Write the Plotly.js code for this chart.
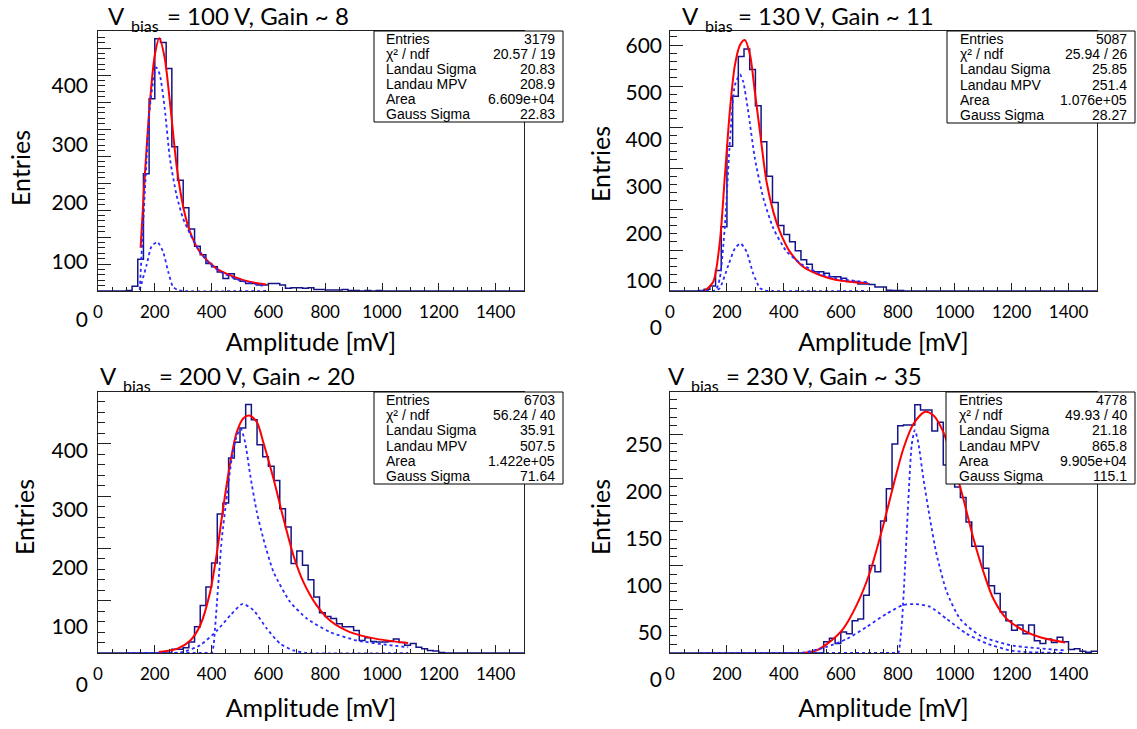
<!DOCTYPE html>
<html><head><meta charset="utf-8">
<script src="https://cdn.plot.ly/plotly-3.0.1.min.js"></script>
<style>html,body{margin:0;padding:0;background:#fff;} #chart{width:1137px;height:729px;}</style>
</head><body><div id="chart"></div>
<script>
// ---------------- DATA ----------------
const binEdges = [0,20,40,60,80,100,120,140,160,180,200,220,240,260,280,300,320,340,360,380,400,420,440,460,480,500,520,540,560,580,600,620,640,660,680,700,720,740,760,780,800,820,840,860,880,900,920,940,960,980,1000,1020,1040,1060,1080,1100,1120,1140,1160,1180,1200,1220,1240,1260,1280,1300,1320,1340,1360,1380,1400,1420,1440,1460,1480,1500];

const counts100V = [0,0,0,0,0,1,9,59,217,356,467,460,412,267,205,154,115,83,67,51,45,35,23,32,22,18,14,14,11,11,14,14,11,5,6,6,5,6,3,3,2,2,2,3,1,1,0,1,0,1,0,0,0,0,0,0,0,0,0,0,0,0,0,0,0,0,0,0,0,0,0,0,0,0,0];
const counts130V = [0,0,0,0,0,1,4,12,50,157,353,475,572,590,540,452,364,280,216,160,138,120,98,76,65,47,47,43,35,35,31,23,23,17,17,16,10,10,2,1,1,0,0,0,0,0,0,0,0,0,0,0,0,0,0,0,0,0,0,0,0,0,0,0,0,0,0,0,0,0,0,0,0,0,0];
const counts200V = [0,0,0,0,0,0,0,0,0,0,0,0,0,7,7,10,21,50,91,126,172,266,287,373,403,430,475,446,398,375,357,330,276,241,171,195,168,140,107,77,70,66,56,50,50,43,24,29,22,21,21,22,27,20,15,18,11,8,5,4,1,0,0,0,0,0,0,0,0,0,0,0,0,0,0];
const counts230V = [0,0,0,0,0,0,0,0,0,0,0,0,0,0,0,0,0,0,0,0,0,0,0,0,0,0,0,13,17,11,24,22,37,39,66,100,93,151,188,239,260,261,261,284,278,278,254,264,215,200,190,178,150,122,122,97,77,68,47,37,26,32,22,32,14,11,16,12,18,13,4,5,2,1,2];

// fitted total (red)
const fit100V_x = [150,165,182,200,216,235,253,278,300,323,358,416,475,533,592];
const fit100V_y = [80,215,344,437,468,431,351,227,156,111,73,42,27,17,12];
const fit130V_x = [123,152,175,193,211,228,246,263,281,298,316,339,363,386,421,468,526,585,696];
const fit130V_y = [1,23,120,283,445,551,600,612,576,486,389,267,193,145,96,59,39,27,19];
const fit200V_x = [214,278,325,360,395,419,442,466,489,512,533,559,582,618,653,688,723,770,817,887,981,1092];
const fit200V_y = [2,8,24,53,117,193,282,365,423,449,454,442,403,333,257,187,136,91,62,40,27,19];
const fit230V_x = [463,515,562,609,656,703,749,785,820,855,896,925,960,995,1030,1066,1101,1136,1183,1241,1300,1388];
const fit230V_y = [0,3,13,28,55,93,146,192,234,262,276,272,253,218,177,131,93,62,39,26,18,12];

// Landau component (blue dashed)
const landau100V_x = [147,165,182,200,206,218,235,253,276,299,323,358,393,440,498,557,592];
const landau100V_y = [2,184,338,406,414,400,338,246,179,135,107,73,51,33,20,12,9];
const landau130V_x = [105,160,175,193,211,228,246,257,275,298,328,363,410,468,526,585,696];
const landau130V_y = [0,2,31,161,372,502,528,511,437,324,226,153,96,63,43,31,21];
const landau200V_x = [100,395,401,407,419,436,454,471,489,503,518,536,559,582,618,676,735,817,911,1027,1092];
const landau200V_y = [0,0,0,15,98,219,301,372,416,429,403,340,270,219,155,98,66,40,24,15,11];
const landau230V_x = [105,795,802,814,826,837,849,860,872,890,913,937,972,1019,1089,1194,1388];
const landau230V_y = [0,0,0,32,100,173,238,255,241,200,154,112,70,39,20,9,3];

// Gaussian component (blue dashed)
const gauss100V_x = [147,171,188,209,229,247,264,280,300,592];
const gauss100V_y = [2,48,82,91,73,36,8,2,0,0];
const gauss130V_x = [105,160,175,205,228,248,269,292,316,333,360,696];
const gauss130V_y = [0,1,7,63,104,116,96,43,7,1,0,0];
const gauss200V_x = [100,250,301,360,419,466,509,547,594,641,688,735,1092];
const gauss200V_y = [0,0,2,15,43,72,94,82,47,18,5,0,0];
const gauss230V_x = [105,457,550,621,691,761,820,864,913,972,1042,1112,1194,1253,1388];
const gauss230V_y = [0,0,7,16,30,45,55,56,53,39,22,11,3,1,0];

// stats boxes
const statLabels = ['Entries','\u03c7\u00b2 / ndf','Landau Sigma','Landau MPV','Area','Gauss Sigma'];
const stats100V = ['3179','20.57 / 19','20.83','208.9','6.609e+04','22.83'];
const stats130V = ['5087','25.94 / 26','25.85','251.4','1.076e+05','28.27'];
const stats200V = ['6703','56.24 / 40','35.91','507.5','1.422e+05','71.64'];
const stats230V = ['4778','49.93 / 40','21.18','865.8','9.905e+04','115.1'];

// panel titles: "V", subscript "bias", rest
const titleMain = 'V';
const titleSub = 'bias';
const titleRest = ['= 100 V, Gain ~ 8','= 130 V, Gain ~ 11','= 200 V, Gain ~ 20','= 230 V, Gain ~ 35'];
const xTickVals = [0,200,400,600,800,1000,1200,1400];
const yLabels100V = [0,100,200,300,400];
const yLabels130V = [0,100,200,300,400,500,600];
const yLabels200V = [0,100,200,300,400];
const yLabels230V = [0,50,100,150,200,250];
const xTitle = 'Amplitude [mV]';
const yTitle = 'Entries';

// ---------------- LAYOUT / STYLE ----------------
const W = 1137, H = 729;
const px = v => v / W, py = v => 1 - v / H;

const panels = [
  {counts: counts100V, fx: fit100V_x, fy: fit100V_y, lx: landau100V_x, ly: landau100V_y, gx: gauss100V_x, gy: gauss100V_y,
   stats: stats100V, rest: titleRest[0], labels: yLabels100V,
   frame: {l: 98, r: 524, t: 31, b: 291}, pxPerUnit: 0.54, yMajor: 50, yMinor: 10,
   lab: {zero: 320, ppu: 0.585, top: 16, pos: 88, standoff: 12},
   box: {l: 374, r: 563, t: 31, b: 122, tl: 384, tr: 557},
   tpos: {v: 106, sub: 129, rest: 165, y: 16, ysub: 26}, xstand: 12},
  {counts: counts130V, fx: fit130V_x, fy: fit130V_y, lx: landau130V_x, ly: landau130V_y, gx: gauss130V_x, gy: gauss130V_y,
   stats: stats130V, rest: titleRest[1], labels: yLabels130V,
   frame: {l: 670, r: 1097, t: 31, b: 291}, pxPerUnit: 0.41, yMajor: 100, yMinor: 20,
   lab: {zero: 328, ppu: 0.47, top: 0, pos: 662, standoff: 6},
   box: {l: 947, r: 1135, t: 31, b: 123, tl: 958, tr: 1129},
   tpos: {v: 680, sub: 703, rest: 736, y: 16, ysub: 26}, xstand: 12},
  {counts: counts200V, fx: fit200V_x, fy: fit200V_y, lx: landau200V_x, ly: landau200V_y, gx: gauss200V_x, gy: gauss200V_y,
   stats: stats200V, rest: titleRest[2], labels: yLabels200V,
   frame: {l: 98, r: 524, t: 392, b: 653}, pxPerUnit: 0.523, yMajor: 100, yMinor: 20,
   lab: {zero: 685, ppu: 0.585, top: 349, pos: 88, standoff: 8},
   box: {l: 374, r: 563, t: 392, b: 484, tl: 384, tr: 557},
   tpos: {v: 98, sub: 121, rest: 157, y: 376, ysub: 386}, xstand: 16},
  {counts: counts230V, fx: fit230V_x, fy: fit230V_y, lx: landau230V_x, ly: landau230V_y, gx: gauss230V_x, gy: gauss230V_y,
   stats: stats230V, rest: titleRest[3], labels: yLabels230V,
   frame: {l: 670, r: 1097, t: 392, b: 653}, pxPerUnit: 0.874, yMajor: 50, yMinor: 10,
   lab: {zero: 680, ppu: 0.94, top: 354, pos: 662, standoff: 6},
   box: {l: 946, r: 1135, t: 392, b: 484, tl: 957, tr: 1129},
   tpos: {v: 666, sub: 689, rest: 724, y: 376, ysub: 386}, xstand: 16}
];

const LABEL_FONT = 'Lato, "Open Sans", sans-serif';
const STAT_FONT = '"Liberation Sans", Arial, Helvetica, sans-serif';
const data = [];
const layout = {
  width: W, height: H, margin: {l: 0, r: 0, t: 0, b: 0},
  paper_bgcolor: '#ffffff', plot_bgcolor: 'rgba(0,0,0,0)',
  showlegend: false, shapes: [], annotations: [], font: {family: LABEL_FONT, color: '#000'}
};

panels.forEach((p, i) => {
  const n = i + 1;
  const xa = n === 1 ? 'x' : 'x' + n;
  const ya = n === 1 ? 'y' : 'y' + n;
  const yl = 'y' + (n + 4);
  const xKey = n === 1 ? 'xaxis' : 'xaxis' + n;
  const yKey = n === 1 ? 'yaxis' : 'yaxis' + n;
  const f = p.frame;

  // histogram outline (step)
  const hx = binEdges.slice();
  const hy = p.counts.concat([p.counts[p.counts.length - 1]]);
  data.push({type: 'scatter', mode: 'lines', x: hx, y: hy, xaxis: xa, yaxis: ya,
    line: {shape: 'hv', color: '#141488', width: 1.5}, hoverinfo: 'skip'});
  data.push({type: 'scatter', mode: 'lines', x: p.fx, y: p.fy, xaxis: xa, yaxis: ya,
    line: {shape: 'spline', smoothing: 0.8, color: '#ff0000', width: 2}, hoverinfo: 'skip'});
  data.push({type: 'scatter', mode: 'lines', x: p.lx, y: p.ly, xaxis: xa, yaxis: ya,
    line: {shape: 'spline', smoothing: 0.6, color: '#2a2aff', width: 1.8, dash: '3px,3px'}, hoverinfo: 'skip'});
  data.push({type: 'scatter', mode: 'lines', x: p.gx, y: p.gy, xaxis: xa, yaxis: ya,
    line: {shape: 'spline', smoothing: 0.6, color: '#2a2aff', width: 1.8, dash: '3px,3px'}, hoverinfo: 'skip'});
  // carrier for the label axis
  data.push({type: 'scatter', mode: 'lines', x: [], y: [], xaxis: xa, yaxis: yl, hoverinfo: 'skip'});

  layout[xKey] = {
    domain: [px(f.l), px(f.r)], range: [0, 1500], anchor: ya,
    showline: true, mirror: true, linecolor: '#222', linewidth: 1,
    showgrid: false, zeroline: false,
    ticks: 'inside', tickmode: 'array', tickvals: xTickVals, ticklen: 8, tickcolor: '#222',
    minor: {ticks: 'inside', dtick: 50, ticklen: 4, tickcolor: '#222', showgrid: false},
    tickfont: {family: LABEL_FONT, size: 17, color: '#000'}, ticklabelstandoff: 6,
    title: {text: xTitle, font: {family: LABEL_FONT, size: 25, color: '#000'}, standoff: p.xstand},
    fixedrange: true
  };
  layout[yKey] = {
    domain: [py(f.b), py(f.t)], range: [0, (f.b - f.t) / p.pxPerUnit], anchor: xa,
    showline: true, mirror: true, linecolor: '#222', linewidth: 1,
    showgrid: false, zeroline: false, showticklabels: false,
    ticks: 'inside', tickmode: 'linear', tick0: 0, dtick: p.yMajor, ticklen: 13, tickcolor: '#222',
    minor: {ticks: 'inside', dtick: p.yMinor, ticklen: 7, tickcolor: '#222', showgrid: false},
    fixedrange: true
  };
  const L = p.lab;
  layout['yaxis' + (n + 4)] = {
    domain: [py(L.zero), py(L.top)], range: [0, (L.zero - L.top) / L.ppu],
    anchor: 'free', position: px(L.pos), side: 'left',
    showline: false, showgrid: false, zeroline: false, ticks: '',
    tickmode: 'array', tickvals: p.labels,
    tickfont: {family: LABEL_FONT, size: 21, color: '#000'},
    title: {text: yTitle, font: {family: LABEL_FONT, size: 25, color: '#000'}, standoff: L.standoff},
    fixedrange: true
  };

  // panel title pieces
  const T = p.tpos;
  layout.annotations.push({xref: 'paper', yref: 'paper', x: px(T.v), y: py(T.y),
    xanchor: 'left', yanchor: 'middle', showarrow: false, text: titleMain,
    font: {family: LABEL_FONT, size: 24, color: '#000'}});
  layout.annotations.push({xref: 'paper', yref: 'paper', x: px(T.sub), y: py(T.ysub),
    xanchor: 'left', yanchor: 'middle', showarrow: false, text: titleSub,
    font: {family: LABEL_FONT, size: 16, color: '#000'}});
  layout.annotations.push({xref: 'paper', yref: 'paper', x: px(T.rest), y: py(T.y),
    xanchor: 'left', yanchor: 'middle', showarrow: false, text: p.rest,
    font: {family: LABEL_FONT, size: 24, color: '#000'}});

  // stats box
  const b = p.box;
  layout.shapes.push({type: 'rect', xref: 'paper', yref: 'paper', layer: 'above',
    x0: px(b.l), x1: px(b.r), y0: py(b.b), y1: py(b.t),
    fillcolor: '#ffffff', line: {color: '#000', width: 1}});
  const rowH = (b.b - b.t) / statLabels.length;
  statLabels.forEach((lab, k) => {
    const yc = b.t + rowH * (k + 0.5);
    layout.annotations.push({xref: 'paper', yref: 'paper', x: px(b.tl), y: py(yc),
      xanchor: 'left', yanchor: 'middle', showarrow: false, text: lab,
      font: {family: STAT_FONT, size: 14, color: '#000'}});
    layout.annotations.push({xref: 'paper', yref: 'paper', x: px(b.tr), y: py(yc),
      xanchor: 'right', yanchor: 'middle', showarrow: false, text: p.stats[k],
      font: {family: STAT_FONT, size: 14, color: '#000'}});
  });
});

Plotly.newPlot('chart', data, layout, {staticPlot: true, displayModeBar: false});
</script>
</body></html>
